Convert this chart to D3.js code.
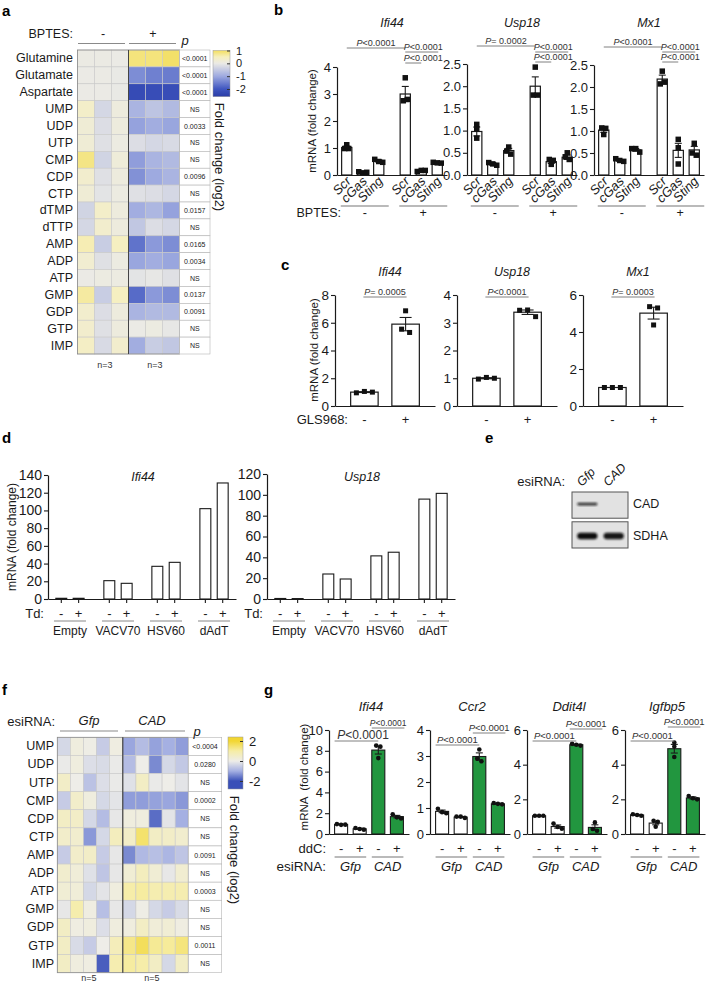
<!DOCTYPE html>
<html><head><meta charset="utf-8">
<script src="https://cdn.jsdelivr.net/npm/d3@7"></script>
<style>
body{margin:0;background:#fff;}
svg{display:block;}
</style></head><body>
<svg id="fig" width="708" height="983"></svg>
<script>
// ================= DATA =================
// Panel a
const aRows = ["Glutamine","Glutamate","Aspartate","UMP","UDP","UTP","CMP","CDP","CTP","dTMP","dTTP","AMP","ADP","ATP","GMP","GDP","GTP","IMP"];
const aCtrl = [[0.02,0.02,0.0],[0,0.01,-0.02],[0,0,-0.02],[0.35,-0.3,0.1],[0.2,-0.2,0.1],[0.2,-0.15,0.05],[0.8,-0.35,0.15],[0.3,-0.15,0.1],[0.2,-0.1,0.05],[-0.35,0.35,0.1],[-0.3,0.3,0.1],[0.55,-0.45,0.45],[0.25,-0.15,0.05],[0.0,0.05,0.05],[0.65,-0.45,0.45],[0.3,-0.2,0.1],[0.3,-0.15,0.1],[0.4,-0.25,0.3]];
const aBptes = [[0.85,0.85,0.95],[-1.35,-1.5,-1.55],[-2.25,-2.2,-2.2],[-0.85,-0.6,-0.75],[-1.1,-0.95,-1.05],[-0.2,-0.3,-0.25],[-1.15,-0.85,-0.75],[-1.3,-1.0,-0.85],[-0.15,-0.2,-0.3],[-0.95,-0.8,-1.1],[-0.55,-0.2,-0.3],[-1.65,-1.2,-1.35],[-1.05,-0.95,-1.05],[-0.1,-0.05,-0.15],[-1.75,-1.2,-1.35],[-0.85,-0.75,-0.75],[0.0,0.05,-0.05],[-0.95,-0.45,-0.55]];
const aP = ["<0.0001","<0.0001","<0.0001","NS","0.0033","NS","NS","0.0096","NS","0.0157","NS","0.0165","0.0034","NS","0.0137","0.0091","NS","NS"];
const aCbTicks = [1,0,-1,-2];

// Panel b
const bGenes = ["Ifi44","Usp18","Mx1"];
const bConds = ["Scr","cGas","Sting"];
const bGroups = ["-","+"];
const bYMax = [4,2.5,2.5];
const bTicks = [[0,1,2,3,4],[0,0.5,1,1.5,2,2.5],[0,0.5,1,1.5,2,2.5]];
const bTickFmt = ["d",".1f",".1f"];
const bMeans = [[1.02,0.1,0.52,3.0,0.15,0.45],[0.98,0.25,0.55,2.0,0.3,0.4],[1.02,0.33,0.57,2.18,0.56,0.57]];
const bSem = [[0.05,0.02,0.04,0.28,0.03,0.02],[0.1,0.03,0.05,0.21,0.04,0.05],[0.05,0.02,0.03,0.09,0.16,0.08]];
const bPts = [
 [[1.12,0.98,0.98],[0.12,0.08,0.1],[0.58,0.5,0.47],[3.6,2.75,2.8],[0.13,0.17,0.17],[0.47,0.45,0.44]],
 [[1.14,1.04,0.83],[0.28,0.25,0.22],[0.63,0.54,0.47],[2.43,1.8,1.8],[0.35,0.24,0.33],[0.5,0.41,0.35]],
 [[1.07,1.06,0.92],[0.37,0.33,0.31],[0.6,0.6,0.52],[2.36,2.07,2.11],[0.81,0.62,0.25],[0.72,0.5,0.45]]];
const bSigMain = ["<0.0001","= 0.0002","<0.0001"];
const bSigUpper = ["<0.0001","<0.0001","<0.0001"];
const bSigLower = ["<0.0001","<0.0001","<0.0001"];

// Panel c
const cGenes = ["Ifi44","Usp18","Mx1"];
const cGroups = ["-","+"];
const cYMax = [8,4,6];
const cTicks = [[0,2,4,6,8],[0,1,2,3,4],[0,2,4,6]];
const cMeans = [[1.0,5.9],[1.0,3.38],[1.0,5.02]];
const cSem = [[0.03,0.48],[0.02,0.08],[0.0,0.32]];
const cPts = [[[0.95,1.05,1.0],[6.86,5.54,5.3]],[[0.97,1.03,1.0],[3.45,3.46,3.22]],[[1.0,1.0,1.0],[5.37,5.3,4.38]]];
const cSig = ["= 0.0005","<0.0001","= 0.0003"];

// Panel d
const dGenes = ["Ifi44","Usp18"];
const dGroups = ["Empty","VACV70","HSV60","dAdT"];
const dTd = ["-","+"];
const dYMax = [140,120];
const dTicks = [[0,20,40,60,80,100,120,140],[0,20,40,60,80,100,120]];
const dValues = [[0.8,0.8,20.7,17.7,36.9,41.4,102,131],[0.5,0.4,24,19.2,41.4,44.9,95.9,101.4]];

// Panel e
const eLanes = ["Gfp","CAD"];
const eProteins = ["CAD","SDHA"];
const eIntensity = [[0.85,0.0],[1.0,0.95]];

// Panel f
const fRows = ["UMP","UDP","UTP","CMP","CDP","CTP","AMP","ADP","ATP","GMP","GDP","GTP","IMP"];
const fGfp = [[-0.35,0.15,0.05,-0.55,0.1],[-0.05,0.15,-0.25,-0.3,-0.05],[0.5,0.0,-0.7,-0.25,-0.05],[-0.55,0.45,0.15,-0.35,-0.15],[0.55,0.5,-0.35,-0.8,-0.1],[0.45,0.4,-1.25,-0.35,0.65],[-0.55,0.45,0.5,-0.55,-0.1],[0.4,0.25,-0.2,-0.65,-0.1],[0.3,0.25,-0.35,-0.15,0.15],[-0.1,0.9,0.1,-0.75,-0.1],[0.55,0.1,0.15,-0.25,0.15],[0.55,-0.3,-0.55,0.0,0.7],[0.55,0.15,0.1,-1.85,0.85]];
const fCad = [[-1.1,-0.8,-1.15,-1.0,-1.2],[-0.8,0.0,-1.4,-0.35,-0.6],[-0.2,0.55,-0.05,0.0,-0.15],[-1.2,-1.2,-1.15,-1.1,-1.25],[0.15,0.15,-1.7,-0.15,-1.0],[0.5,1.5,0.55,0.5,0.4],[-1.4,-0.85,-0.75,-0.9,-0.65],[0.3,0.65,0.3,-0.1,0.35],[0.95,1.05,0.85,0.85,0.85],[-0.35,0.05,-0.35,-0.55,-0.3],[0.15,0.55,0.25,0.3,0.1],[1.25,1.65,1.15,1.1,1.35],[1.05,0.95,0.55,-0.35,0.55]];
const fP = ["<0.0004","0.0280","NS","0.0002","NS","NS","0.0091","NS","0.0003","NS","NS","0.0011","NS"];
const fCbTicks = [2,0,-2];

// Panel g
const gGenes = ["Ifi44","Ccr2","Ddit4l","Igfbp5"];
const gEsi = ["Gfp","CAD"];
const gDdc = ["-","+"];
const gYMax = [10,4,6,6];
const gTicks = [[0,2,4,6,8,10],[0,1,2,3,4],[0,2,4,6],[0,2,4,6]];
const gMeans = [[0.92,0.5,8.07,1.67],[0.87,0.65,2.98,1.16],[1.05,0.43,5.15,0.38],[1.1,0.63,4.92,2.08]];
const gSem = [[0.03,0.05,0.38,0.12],[0.05,0.02,0.14,0.02],[0.01,0.09,0.03,0.15],[0.03,0.1,0.25,0.06]];
const gPts = [
 [[0.95,0.88,0.9],[0.58,0.48,0.42],[8.5,8.4,7.3],[1.9,1.6,1.5]],
 [[0.97,0.84,0.8],[0.67,0.67,0.62],[3.25,2.9,2.8],[1.19,1.16,1.14]],
 [[1.05,1.05,1.05],[0.6,0.4,0.3],[5.2,5.15,5.1],[0.67,0.29,0.19]],
 [[1.14,1.1,1.05],[0.76,0.7,0.42],[5.28,5.05,4.44],[2.19,2.06,2.0]]];
const gSigMain = ["<0.0001","<0.0001","<0.0001","<0.0001"];
const gSigUpper = ["<0.0001","<0.0001","<0.0001","<0.0001"];

// ================= HELPERS =================
const FONT = "'Liberation Sans', Arial, Helvetica, sans-serif";
const svg = d3.select("#fig").attr("font-family", FONT);
const INK = "#1a1a1a";
const hyphenFmt = d => String(d);

function txt(g, x, y, s, o = {}) {
  const t = g.append("text").attr("x", x).attr("y", y).text(s)
    .attr("font-size", o.fs || 13).attr("text-anchor", o.anchor || "start")
    .attr("fill", o.fill || INK);
  if (o.italic) t.attr("font-style", "italic");
  if (o.bold) t.attr("font-weight", "bold");
  if (o.rotate) t.attr("transform", `rotate(${o.rotate},${x},${y})`);
  if (o.db) t.attr("dominant-baseline", o.db);
  return t;
}
function ptxt(g, x, y, rest, fs, anchor) {
  const t = g.append("text").attr("x", x).attr("y", y).attr("font-size", fs)
    .attr("text-anchor", anchor || "middle").attr("fill", "#333");
  t.append("tspan").attr("font-style", "italic").text("P");
  t.append("tspan").text(rest);
  return t;
}
function hline(g, x1, x2, y, color = "#888", w = 1) {
  g.append("line").attr("x1", x1).attr("x2", x2).attr("y1", y).attr("y2", y)
    .attr("stroke", color).attr("stroke-width", w);
}
function sig(g, x1, x2, y, rest, fs, tx) {
  hline(g, x1, x2, y, "#808080", 1);
  ptxt(g, tx == null ? (x1 + x2) / 2 : tx, y - 2.5, rest, fs);
}
function yAxis(g, y, x, ticks, fmt, fs) {
  const ax = g.append("g").attr("transform", `translate(${x},0)`)
    .call(d3.axisLeft(y).tickValues(ticks).tickFormat(fmt).tickSize(4).tickSizeOuter(0).tickPadding(2));
  ax.attr("font-family", FONT);
  ax.select(".domain").attr("stroke", INK).attr("stroke-width", 1.2);
  ax.selectAll(".tick line").attr("stroke", INK).attr("stroke-width", 1.1);
  ax.selectAll(".tick text").attr("font-size", fs).attr("fill", INK);
  return ax;
}
function xAxisLine(g, scale, y) {
  const ax = g.append("g").attr("transform", `translate(0,${y})`)
    .call(d3.axisBottom(scale).tickSize(0).tickSizeOuter(0).tickFormat(""));
  ax.select(".domain").attr("stroke", INK).attr("stroke-width", 1.2);
  return ax;
}
function dodge(vals, y, gap) {
  const idx = vals.map((v, i) => ({ i, py: y(v) })).sort((a, b) => a.py - b.py);
  const offs = new Array(vals.length).fill(0);
  const groups = []; let cur = [idx[0]];
  for (let k = 1; k < idx.length; k++) {
    if (idx[k].py - cur[cur.length - 1].py < gap * 0.9) cur.push(idx[k]);
    else { groups.push(cur); cur = [idx[k]]; }
  }
  groups.push(cur);
  groups.forEach(gr => { const n = gr.length; gr.sort((a, b) => a.i - b.i).forEach((p, k) => offs[p.i] = (k - (n - 1) / 2) * gap); });
  return offs;
}
function drawBars(g, items, y, o) {
  g.selectAll("rect.bar").data(items).join("rect").attr("class", "bar")
    .attr("x", d => d.x).attr("y", d => y(d.m)).attr("width", d => d.w)
    .attr("height", d => y(0) - y(d.m)).attr("fill", d => d.fill || "#fff")
    .attr("stroke", INK).attr("stroke-width", o.sw || 1.2);
  items.forEach(d => {
    const cx = d.x + d.w / 2;
    if (d.sem > 0) {
      g.append("line").attr("x1", cx).attr("x2", cx).attr("y1", y(d.m - d.sem)).attr("y2", y(d.m + d.sem)).attr("stroke", INK).attr("stroke-width", 1.1);
      [d.m - d.sem, d.m + d.sem].forEach(v => hline(g, cx - o.cap, cx + o.cap, y(v), INK, 1.1));
    }
    const offs = dodge(d.pts, y, o.gap);
    d.pts.forEach((v, i) => {
      if (o.marker === "square") {
        g.append("rect").attr("x", cx + offs[i] - o.ms / 2).attr("y", y(v) - o.ms / 2)
          .attr("width", o.ms).attr("height", o.ms).attr("fill", "#111");
      } else {
        g.append("circle").attr("cx", cx + offs[i]).attr("cy", y(v)).attr("r", o.ms / 2).attr("fill", "#111");
      }
    });
  });
}
function panelLabel(x, y, s) { txt(svg, x, y, s, { fs: 15, bold: true, fill: "#000" }); }

// ================= PANEL A =================
(function () {
  const g = svg.append("g");
  panelLabel(2, 16, "a");
  const aColor = d3.scaleLinear().domain([-2.6, -2, -1, 0, 0.5, 1.2])
    .range(["#2a3ca6", "#3f56c0", "#9eaae0", "#ebeae5", "#f6efbd", "#f2d83a"]).clamp(true);
  const x = d3.scaleBand().domain(d3.range(6)).range([77.5, 179.5]);
  const y = d3.scaleBand().domain(aRows).range([50, 354]);
  const cells = [];
  aRows.forEach((r, i) => aCtrl[i].concat(aBptes[i]).forEach((v, j) => cells.push({ r, j, v })));
  g.selectAll("rect.cell").data(cells).join("rect").attr("class", "cell")
    .attr("x", d => x(d.j)).attr("y", d => y(d.r)).attr("width", x.bandwidth()).attr("height", y.bandwidth())
    .attr("fill", d => aColor(d.v)).attr("stroke", "#c9c9c9").attr("stroke-width", 0.6);
  g.append("rect").attr("x", 77.5).attr("y", 50).attr("width", 102).attr("height", 304).attr("fill", "none").attr("stroke", "#8a8a8a").attr("stroke-width", 0.8);
  g.append("line").attr("x1", x(3)).attr("x2", x(3)).attr("y1", 50).attr("y2", 354).attr("stroke", "#444").attr("stroke-width", 1);
  g.selectAll("rect.p").data(aRows).join("rect").attr("class", "p")
    .attr("x", 179.5).attr("y", d => y(d)).attr("width", 30.5).attr("height", y.bandwidth())
    .attr("fill", "#fff").attr("stroke", "#b5b5b5").attr("stroke-width", 0.6);
  aRows.forEach((r, i) => {
    txt(g, 73, y(r) + y.bandwidth() / 2, r, { fs: 12.5, anchor: "end", db: "central" });
    txt(g, 194.75, y(r) + y.bandwidth() / 2, aP[i], { fs: 7, anchor: "middle", db: "central", fill: "#222" });
  });
  txt(g, 73, 38, "BPTES:", { fs: 12.5, anchor: "end" });
  txt(g, 103, 38, "-", { fs: 12.5, anchor: "middle" });
  txt(g, 153, 38, "+", { fs: 12.5, anchor: "middle" });
  hline(g, 78, 125, 43.5, "#8a8a8a", 1.2);
  hline(g, 129, 176, 43.5, "#8a8a8a", 1.2);
  txt(g, 185, 45, "p", { fs: 13, italic: true, anchor: "middle" });
  txt(g, 105, 368, "n=3", { fs: 9, anchor: "middle", fill: "#333" });
  txt(g, 155, 368, "n=3", { fs: 9, anchor: "middle", fill: "#333" });
  const cbY = d3.scaleLinear().domain([1, -2]).range([50.5, 89]);
  const top = cbY(1.0), bot = cbY(-2.6);
  const grad = svg.append("defs").append("linearGradient").attr("id", "gradA").attr("x1", 0).attr("y1", 0).attr("x2", 0).attr("y2", 1);
  d3.range(1.0, -2.61, -0.1).forEach(v => grad.append("stop").attr("offset", (cbY(v) - top) / (bot - top)).attr("stop-color", aColor(v)));
  g.append("rect").attr("x", 213).attr("y", top).attr("width", 17).attr("height", bot - top).attr("fill", "url(#gradA)").attr("stroke", "#999").attr("stroke-width", 0.5);
  const ax = g.append("g").attr("transform", "translate(230,0)").call(d3.axisRight(cbY).tickValues(aCbTicks).tickSize(-3).tickPadding(6).tickFormat(hyphenFmt));
  ax.attr("font-family", FONT); ax.select(".domain").remove();
  ax.selectAll(".tick line").attr("stroke", "#333");
  ax.selectAll(".tick text").attr("font-size", 11).attr("fill", INK);
  txt(g, 215, 157, "Fold change (log2)", { fs: 13, anchor: "middle", rotate: 90 });
})();

// ================= PANEL B =================
(function () {
  panelLabel(274, 15, "b");
  const X0 = [337, 467, 594], W = 110, Y0 = 175, YT = [67, 64, 65];
  const sigY = [[48, 52, 63], [46, 52, 62], [47, 52, 62]];
  bGenes.forEach((gene, k) => {
    const g = svg.append("g");
    const xo = d3.scaleBand().domain(bGroups).range([X0[k], X0[k] + W]).paddingInner(0.18).paddingOuter(0.03);
    const xi = d3.scaleBand().domain(bConds).range([0, xo.bandwidth()]).paddingInner(0.36).paddingOuter(0.18);
    const y = d3.scaleLinear().domain([0, bYMax[k]]).range([Y0, YT[k]]);
    const items = [];
    bGroups.forEach((gr, i) => bConds.forEach((c, j) => {
      const n = i * 3 + j;
      items.push({ x: xo(gr) + xi(c), w: xi.bandwidth(), m: bMeans[k][n], sem: bSem[k][n], pts: bPts[k][n], gr, c });
    }));
    drawBars(g, items, y, { marker: "square", ms: 5.5, gap: 4, cap: 3.5 });
    xAxisLine(g, xo, Y0);
    yAxis(g, y, X0[k], bTicks[k], d3.format(bTickFmt[k]), 13);
    txt(g, X0[k] + 55, 27, gene, { fs: 12.5, italic: true, anchor: "middle" });
    items.forEach(d => txt(g, d.x + d.w / 2 + 5, Y0 + 7, d.c, { fs: 13, italic: true, anchor: "end", rotate: -45 }));
    bGroups.forEach(gr => {
      hline(g, xo(gr) + 2, xo(gr) + xo.bandwidth() + 2, 206, "#777", 1.1);
      txt(g, xo(gr) + xo.bandwidth() / 2 + 2, 217, gr, { fs: 12.5, anchor: "middle" });
    });
    const c = i => items[i].x + items[i].w / 2;
    sig(g, c(0), c(3), sigY[k][0], bSigMain[k], 9);
    sig(g, c(3), c(5) + 1, sigY[k][1], bSigUpper[k], 9, c(3) + 18);
    sig(g, c(3), c(4), sigY[k][2], bSigLower[k], 9, c(3) + 18);
    if (k === 0) {
      g.append("text").attr("transform", "translate(316,121) rotate(-90)").attr("text-anchor", "middle")
        .attr("font-size", 11.5).attr("fill", INK).text("mRNA (fold change)");
      txt(g, 341, 217, "BPTES:", { fs: 12.5, anchor: "end" });
    }
  });
})();

// ================= PANEL C =================
(function () {
  panelLabel(281, 270, "c");
  const X0 = [335, 457, 583], W = 100, Y0 = 406, YT = 295;
  cGenes.forEach((gene, k) => {
    const g = svg.append("g");
    const x = d3.scaleBand().domain(cGroups).range([X0[k], X0[k] + W]).paddingInner(0.333).paddingOuter(0.38);
    const y = d3.scaleLinear().domain([0, cYMax[k]]).range([Y0, YT]);
    const items = cGroups.map((gr, i) => ({ x: x(gr), w: x.bandwidth(), m: cMeans[k][i], sem: cSem[k][i], pts: cPts[k][i], gr }));
    drawBars(g, items, y, { marker: "square", ms: 5, gap: 8, cap: 6 });
    xAxisLine(g, x, Y0);
    yAxis(g, y, X0[k], cTicks[k], d3.format("d"), 13.5);
    txt(g, X0[k] + 55, 276, gene, { fs: 12.5, italic: true, anchor: "middle" });
    const c = i => items[i].x + items[i].w / 2;
    sig(g, c(0) - 1, c(1) + 1, 297, cSig[k], 9);
    cGroups.forEach(gr => txt(g, x(gr) + x.bandwidth() / 2, 424, gr, { fs: 13, anchor: "middle" }));
    if (k === 0) {
      g.append("text").attr("transform", "translate(318,350) rotate(-90)").attr("text-anchor", "middle")
        .attr("font-size", 11.5).attr("fill", INK).text("mRNA (fold change)");
      txt(g, 348, 424, "GLS968:", { fs: 13, anchor: "end" });
    }
  });
})();

// ================= PANEL D =================
(function () {
  panelLabel(2, 443, "d");
  const X0 = [48, 267], W = 188, Y0 = 599, YT = [475, 474];
  const rowY = 618;
  dGenes.forEach((gene, k) => {
    const g = svg.append("g");
    const xo = d3.scaleBand().domain(dGroups).range([X0[k], X0[k] + W]).paddingInner(0.375).paddingOuter(0.145);
    const xi = d3.scaleBand().domain(dTd).range([0, xo.bandwidth()]).paddingInner(0.37).paddingOuter(0.05);
    const y = d3.scaleLinear().domain([0, dYMax[k]]).range([Y0, YT[k]]);
    const data = [];
    dGroups.forEach((gr, i) => dTd.forEach((t, j) => data.push({ gr, t, v: dValues[k][i * 2 + j] })));
    g.selectAll("rect").data(data).join("rect")
      .attr("x", d => xo(d.gr) + xi(d.t)).attr("y", d => y(d.v)).attr("width", xi.bandwidth())
      .attr("height", d => y(0) - y(d.v)).attr("fill", "#fff").attr("stroke", INK).attr("stroke-width", 1.1);
    xAxisLine(g, xo, Y0);
    g.selectAll("line.xt").data(data).join("line").attr("class", "xt")
      .attr("x1", d => xo(d.gr) + xi(d.t) + xi.bandwidth() / 2).attr("x2", d => xo(d.gr) + xi(d.t) + xi.bandwidth() / 2)
      .attr("y1", Y0).attr("y2", Y0 + 4).attr("stroke", INK).attr("stroke-width", 1.1);
    yAxis(g, y, X0[k], dTicks[k], d3.format("d"), 14);
    txt(g, X0[k] + 95, 481, gene, { fs: 12.5, italic: true, anchor: "middle" });
    data.forEach(d => txt(g, xo(d.gr) + xi(d.t) + xi.bandwidth() / 2, rowY, d.t, { fs: 13, anchor: "middle" }));
    dGroups.forEach(gr => {
      hline(g, xo(gr) - 1, xo(gr) + xo.bandwidth() + 1, rowY + 3, "#888", 1);
      txt(g, xo(gr) + xo.bandwidth() / 2, rowY + 17, gr, { fs: 12, anchor: "middle" });
    });
    txt(g, X0[k] - 4, rowY, "Td:", { fs: 13, anchor: "end" });
    if (k === 0) {
      g.append("text").attr("transform", "translate(16,537) rotate(-90)").attr("text-anchor", "middle")
        .attr("font-size", 12).attr("fill", INK).text("mRNA (fold change)");
    }
  });
})();

// ================= PANEL E =================
(function () {
  panelLabel(485, 443, "e");
  const g = svg.append("g");
  const defs = svg.append("defs");
  defs.append("filter").attr("id", "blur").attr("x", "-20%").attr("y", "-50%").attr("width", "140%").attr("height", "200%")
    .append("feGaussianBlur").attr("stdDeviation", 0.9);
  const x = d3.scaleBand().domain(eLanes).range([572, 628]).paddingInner(0.12).paddingOuter(0.12);
  const y = d3.scaleBand().domain(eProteins).range([492, 548]).paddingInner(0.12);
  const bandH = [2.8, 6.5];
  eProteins.forEach((p, i) => {
    g.append("rect").attr("x", 572).attr("y", y(p)).attr("width", 56).attr("height", y.bandwidth())
      .attr("fill", "#e2e2e2").attr("stroke", "#555").attr("stroke-width", 1);
    eLanes.forEach((l, j) => {
      const v = eIntensity[i][j];
      if (v > 0) {
        g.append("rect").attr("x", x(l) + 2).attr("y", y(p) + y.bandwidth() / 2 - bandH[i] / 2 + (i === 0 ? -1 : 1))
          .attr("width", x.bandwidth() - 3).attr("height", bandH[i]).attr("rx", bandH[i] / 2)
          .attr("fill", "#111").attr("opacity", v).attr("filter", "url(#blur)");
      }
    });
    txt(g, 633, y(p) + y.bandwidth() / 2 + (i === 0 ? -1 : 1), p, { fs: 12.5, db: "central" });
  });
  txt(g, 565, 486, "esiRNA:", { fs: 13, anchor: "end" });
  eLanes.forEach(l => txt(g, x(l) + x.bandwidth() / 2 - 5, 487, l, { fs: 12.5, italic: true, rotate: -45 }));
})();

// ================= PANEL F =================
(function () {
  panelLabel(2, 695, "f");
  const g = svg.append("g");
  const fColor = d3.scaleLinear().domain([-2, -1, 0, 1, 2])
    .range(["#3a50b8", "#a5b0e2", "#eeede8", "#f6eda6", "#f2d632"]).clamp(true);
  const x = d3.scaleBand().domain(d3.range(10)).range([57.3, 188.3]);
  const y = d3.scaleBand().domain(fRows).range([737.3, 972.7]);
  const cells = [];
  fRows.forEach((r, i) => fGfp[i].concat(fCad[i]).forEach((v, j) => cells.push({ r, j, v })));
  g.selectAll("rect.cell").data(cells).join("rect").attr("class", "cell")
    .attr("x", d => x(d.j)).attr("y", d => y(d.r)).attr("width", x.bandwidth()).attr("height", y.bandwidth())
    .attr("fill", d => fColor(d.v)).attr("stroke", "#c9c9c9").attr("stroke-width", 0.6);
  g.append("rect").attr("x", 57.3).attr("y", 737.3).attr("width", 131).attr("height", 235.4).attr("fill", "none").attr("stroke", "#8a8a8a").attr("stroke-width", 0.8);
  g.append("line").attr("x1", x(5)).attr("x2", x(5)).attr("y1", 737.3).attr("y2", 972.7).attr("stroke", "#333").attr("stroke-width", 1.1);
  g.selectAll("rect.p").data(fRows).join("rect").attr("class", "p")
    .attr("x", 188.3).attr("y", d => y(d)).attr("width", 33.4).attr("height", y.bandwidth())
    .attr("fill", "#fff").attr("stroke", "#b5b5b5").attr("stroke-width", 0.6);
  fRows.forEach((r, i) => {
    txt(g, 54, y(r) + y.bandwidth() / 2, r, { fs: 12.5, anchor: "end", db: "central" });
    txt(g, 205, y(r) + y.bandwidth() / 2, fP[i], { fs: 7, anchor: "middle", db: "central", fill: "#222" });
  });
  txt(g, 55, 726, "esiRNA:", { fs: 13, anchor: "end" });
  txt(g, 89, 725, "Gfp", { fs: 13, italic: true, anchor: "middle" });
  txt(g, 152, 725, "CAD", { fs: 13, italic: true, anchor: "middle" });
  hline(g, 60, 118, 731, "#8a8a8a", 1.2);
  hline(g, 125, 185, 731, "#8a8a8a", 1.2);
  txt(g, 197, 736, "p", { fs: 13, italic: true, anchor: "middle" });
  txt(g, 89, 981, "n=5", { fs: 9, anchor: "middle", fill: "#333" });
  txt(g, 152, 981, "n=5", { fs: 9, anchor: "middle", fill: "#333" });
  const cbY = d3.scaleLinear().domain([2, -2]).range([741, 781]);
  const top = cbY(2.4), bot = cbY(-2.8);
  const grad = svg.append("defs").append("linearGradient").attr("id", "gradF").attr("x1", 0).attr("y1", 0).attr("x2", 0).attr("y2", 1);
  d3.range(2.4, -2.81, -0.1).forEach(v => grad.append("stop").attr("offset", (cbY(v) - top) / (bot - top)).attr("stop-color", fColor(v)));
  g.append("rect").attr("x", 228).attr("y", top).attr("width", 15).attr("height", bot - top).attr("fill", "url(#gradF)").attr("stroke", "#999").attr("stroke-width", 0.5);
  const ax = g.append("g").attr("transform", "translate(243,0)").call(d3.axisRight(cbY).tickValues(fCbTicks).tickSize(-3).tickPadding(6).tickFormat(hyphenFmt));
  ax.attr("font-family", FONT); ax.select(".domain").remove();
  ax.selectAll(".tick line").attr("stroke", "#333");
  ax.selectAll(".tick text").attr("font-size", 13).attr("fill", INK);
  txt(g, 230, 850, "Fold change (log2)", { fs: 13, anchor: "middle", rotate: 90 });
})();

// ================= PANEL G =================
(function () {
  panelLabel(264, 695, "g");
  const X0 = [329, 430, 527, 625], W = 80, Y0 = 834, YT = 730;
  const sigY = [[741, 728], [745, 733], [741, 729], [741, 727]];
  const mainFs = [12, 9.5, 9.5, 9.5];
  gGenes.forEach((gene, k) => {
    const g = svg.append("g");
    const keys = [];
    gEsi.forEach(e => gDdc.forEach(d => keys.push(e + d)));
    const x = d3.scaleBand().domain(keys).range([X0[k], X0[k] + W]).paddingInner(0.3).paddingOuter(0.3);
    const y = d3.scaleLinear().domain([0, gYMax[k]]).range([Y0, YT]);
    const items = keys.map((key, i) => ({ x: x(key), w: x.bandwidth(), m: gMeans[k][i], sem: gSem[k][i], pts: gPts[k][i], fill: i >= 2 ? "#22963f" : "#fff", key }));
    drawBars(g, items, y, { marker: "circle", ms: 4.6, gap: 4.2, cap: 3.5, sw: 1.1 });
    xAxisLine(g, x, Y0);
    yAxis(g, y, X0[k], gTicks[k], d3.format("d"), 13);
    txt(g, X0[k] + 42, 711, gene, { fs: 13, italic: true, anchor: "middle" });
    sig(g, items[0].x, items[2].x + items[2].w / 2, sigY[k][0], gSigMain[k], mainFs[k], k === 0 ? 363 : null);
    sig(g, items[2].x, items[3].x + items[3].w + 1, sigY[k][1], gSigUpper[k], k === 0 ? 8.5 : 9.5);
    items.forEach((d, i) => txt(g, d.x + d.w / 2, 853, gDdc[i % 2], { fs: 13, anchor: "middle" }));
    gEsi.forEach((e, i) => {
      const a = items[i * 2], b = items[i * 2 + 1];
      hline(g, a.x, b.x + b.w, 857, "#777", 1.1);
      txt(g, (a.x + b.x + b.w) / 2, 871, e, { fs: 13, italic: true, anchor: "middle" });
    });
    if (k === 0) {
      g.append("text").attr("transform", "translate(308,777) rotate(-90)").attr("text-anchor", "middle")
        .attr("font-size", 11.5).attr("fill", INK).attr("xml:space", "preserve").text("mRNA  (fold change)");
      txt(g, 326, 853, "ddC:", { fs: 13, anchor: "end" });
      txt(g, 326, 871, "esiRNA:", { fs: 13.5, anchor: "end" });
    }
  });
})();
</script></body></html>
